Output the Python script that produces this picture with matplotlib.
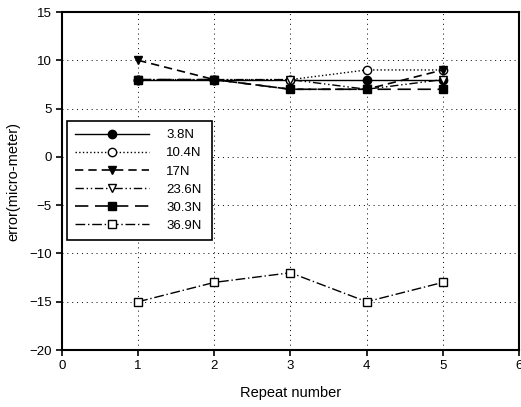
import matplotlib
matplotlib.use('Agg')
import matplotlib.pyplot as plt

plt.rcParams['font.family'] = ['Liberation Sans', 'DejaVu Sans']

# repeated measurements per load
repeats = [1, 2, 3, 4, 5]
err_3_8 = [8, 8, 8, 8, 8]
err_10_4 = [8, 8, 8, 9, 9]
err_17 = [10, 8, 7, 7, 9]
err_23_6 = [8, 8, 8, 7, 8]
err_30_3 = [8, 8, 7, 7, 7]
err_36_9 = [-15, -13, -12, -15, -13]

fig = plt.figure(figsize=(5.21, 4.07), dpi=100)
ax = fig.add_axes([0.119, 0.14, 0.877, 0.8305])

ms = 6
ax.plot(repeats, err_3_8, '-', color='black', marker='o', ms=ms, lw=1.0, label='3.8N')
ax.plot(repeats, err_10_4, ':', color='black', marker='o', mfc='white', ms=ms, lw=1.0, label='10.4N')
ax.plot(repeats, err_17, color='black', ls=(0, (5, 3)), marker='v', ms=ms, lw=1.2, label='17N')
ax.plot(repeats, err_23_6, color='black', ls=(0, (6, 2, 1, 2, 1, 2)), marker='v', mfc='white',
        ms=ms, lw=1.0, label='23.6N')
ax.plot(repeats, err_30_3, color='black', ls=(0, (8, 4)), marker='s', ms=ms, lw=1.2, label='30.3N')
ax.plot(repeats, err_36_9, color='black', ls=(0, (7, 2, 1, 2)), marker='s', mfc='white',
        ms=ms, lw=1.0, label='36.9N')

ax.set_xlim(0, 6)
ax.set_ylim(-20, 15)
ax.set_xticks(range(0, 7))
ax.set_yticks(range(-20, 16, 5))
ax.grid(True, color='black', ls=(0, (1, 4)), lw=0.7)
ax.tick_params(direction='out', length=4, width=1.2, labelsize=9.5)
for s in ax.spines.values():
    s.set_linewidth(1.5)

ax.set_xlabel('Repeat number', fontsize=10.5, labelpad=10)
ax.set_ylabel('error(micro-meter)', fontsize=10.5, labelpad=6)

leg = ax.legend(loc='upper left', bbox_to_anchor=(0.1286, 0.4177, 0.278, 0.285),
                bbox_transform=fig.transFigure, mode='expand', fancybox=False,
                framealpha=1, edgecolor='black', fontsize=9.5, handlelength=5.6,
                handletextpad=1.3, borderpad=0.6, labelspacing=0.45, borderaxespad=0)
leg.get_frame().set_linewidth(1.2)

fig.savefig('out.png', dpi=100)
